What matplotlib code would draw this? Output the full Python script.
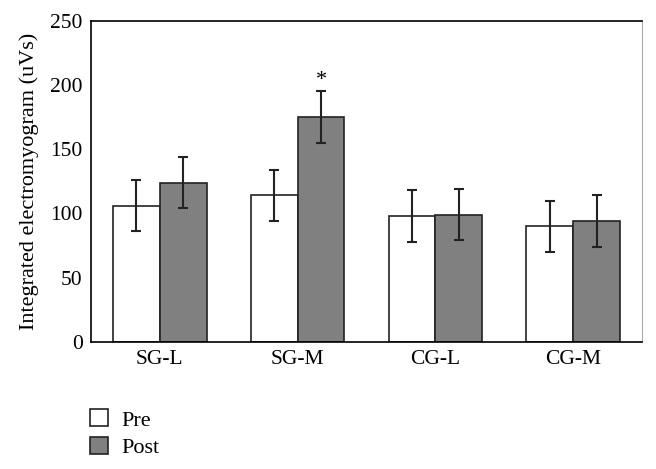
import matplotlib
matplotlib.use('Agg')
import matplotlib.pyplot as plt
import numpy as np

# Datos
grupos = ['SG-L', 'SG-M', 'CG-L', 'CG-M']
pre = [106, 114, 98, 90]
post = [124, 175, 99, 94]
pre_err = [20, 20, 20, 20]
post_err = [20, 20, 20, 20]
yticks = [0, 50, 100, 150, 200, 250]

plt.rcParams['font.family'] = ['Liberation Serif', 'DejaVu Serif']

fig = plt.figure(figsize=(6.56, 4.69), dpi=100)
ax = fig.add_axes([0.1387, 0.2708, 0.84, 0.685])

x = np.arange(len(grupos))
w = 0.34
err_kw = dict(ecolor='#222222', elinewidth=1.5, capsize=3.5, capthick=1.5)
ax.bar(x - w/2, pre, w, yerr=pre_err, color='white', edgecolor='#222222',
       linewidth=1.2, label='Pre', error_kw=err_kw)
ax.bar(x + w/2, post, w, yerr=post_err, color='#808080', edgecolor='#222222',
       linewidth=1.2, label='Post', error_kw=err_kw)

# Asterisco de significancia sobre SG-M Post
ax.text(1 + w/2, post[1] + post_err[1] + 1, '*', ha='center', va='bottom', fontsize=16)

ax.set_xlim(-0.5, 3.5)
ax.set_ylim(0, 250)
ax.set_yticks(yticks)
ax.set_xticks(x)
ax.set_xticklabels(grupos)
ax.tick_params(axis='both', length=0, labelsize=15.5, pad=6)
ax.set_ylabel('Integrated electromyogram (uVs)', fontsize=16, labelpad=8)
ax.spines['right'].set_color('#aaaaaa')
ax.spines['right'].set_linewidth(0.8)
for s in ['left', 'bottom', 'top']:
    ax.spines[s].set_linewidth(1.2)

# la leyenda va abajo de la figura
handles, labels = ax.get_legend_handles_labels()
fig.legend(handles, labels, loc='upper left', bbox_to_anchor=(0.137, 0.127),
           bbox_transform=fig.transFigure, frameon=False, fontsize=16,
           borderpad=0, borderaxespad=0,
           handlelength=0.8, handleheight=0.8, labelspacing=0.27, handletextpad=0.6)

fig.savefig('out.png', dpi=100)
